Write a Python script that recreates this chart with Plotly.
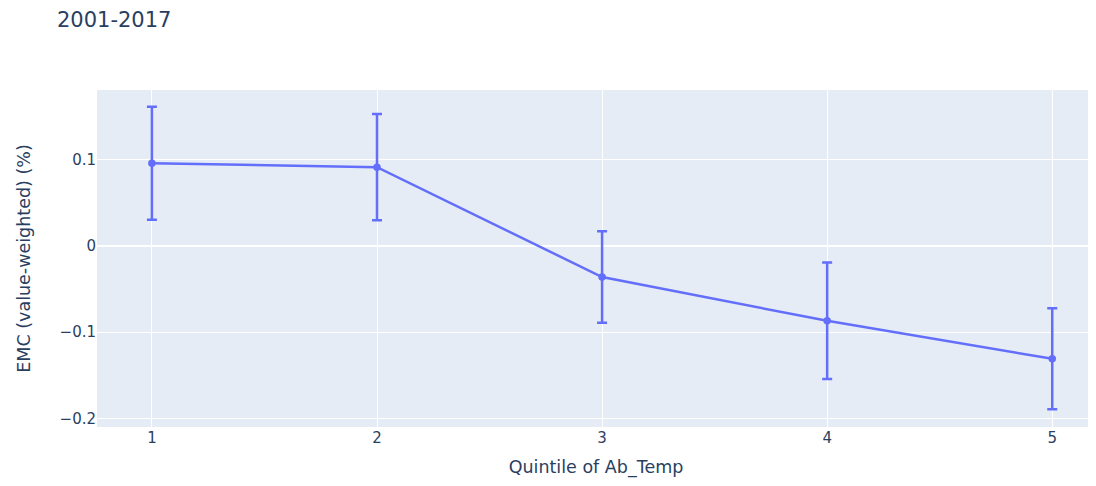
import plotly.graph_objects as go

quintiles = [1, 2, 3, 4, 5]
emc = [0.0955, 0.091, -0.0363, -0.087, -0.131]
err = [0.0655, 0.0615, 0.053, 0.0675, 0.0585]

fig = go.Figure()
fig.add_trace(go.Scatter(
    x=quintiles, y=emc, mode="lines+markers",
    line=dict(width=2.5), marker=dict(size=7.5),
    error_y=dict(type="data", array=err, visible=True, thickness=2.5, width=5),
))
fig.update_layout(
    template="plotly",
    width=1088, height=470,
    font=dict(family="DejaVu Sans", size=15),
    title=dict(text="2001-2017", font=dict(size=21), x=0.045, xanchor="left",
               y=0.975, yanchor="middle"),
    margin=dict(l=89, r=1, t=82, b=51),
    xaxis=dict(title=dict(text="Quintile of Ab_Temp", font=dict(size=17.5), standoff=18),
               range=[0.756, 5.19], dtick=1),
    yaxis=dict(title=dict(text="EMC (value-weighted) (%)", font=dict(size=17.5), standoff=24),
               range=[-0.21, 0.1804], dtick=0.1),
)
fig.write_html("out.html")
